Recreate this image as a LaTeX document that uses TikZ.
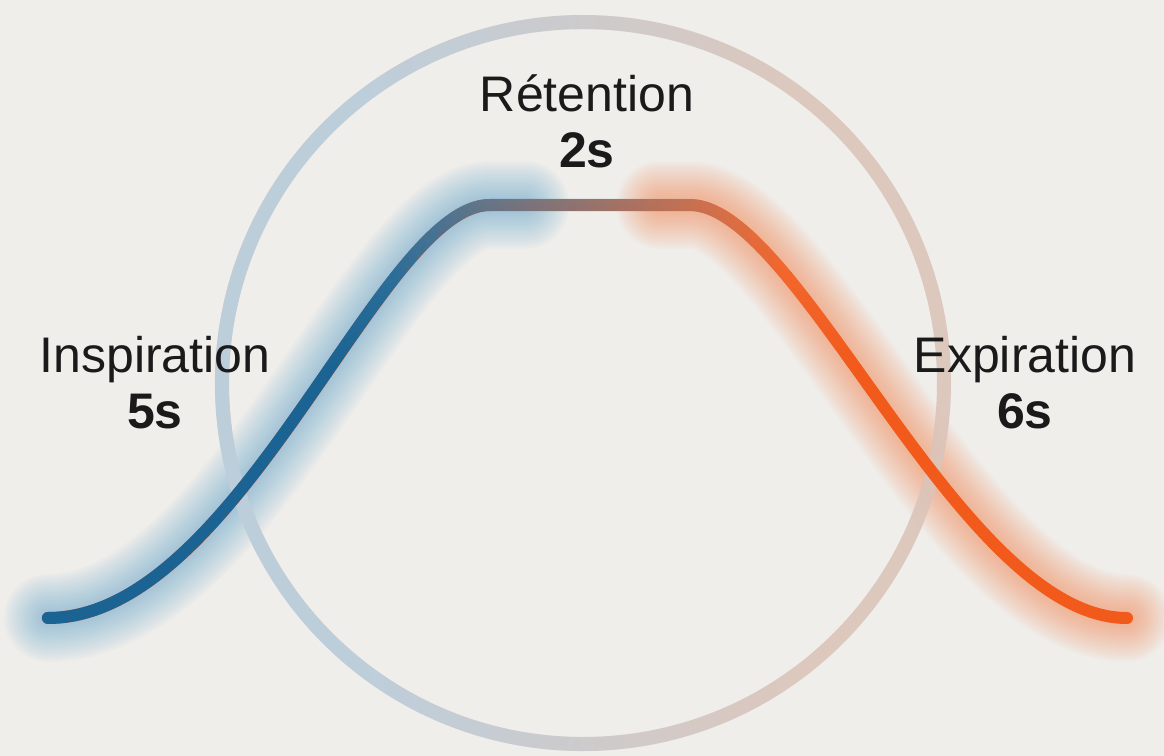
\documentclass[tikz,border=0pt]{standalone}
\usepackage{fontspec}
\setmainfont{Liberation Sans}
\usetikzlibrary{positioning,calc,fadings}

\definecolor{bgcol}{HTML}{EFEEEA}
\definecolor{inblue}{HTML}{1B6392}
\definecolor{exorange}{HTML}{F25A1C}
\definecolor{glowblue}{HTML}{5FA6D8}
\definecolor{gloworange}{HTML}{FF8248}
\definecolor{ringblue}{HTML}{BACFDF}
\definecolor{ringrose}{HTML}{DCC4B9}
\definecolor{txt}{HTML}{1A1A1A}

% fading: keep the left part, drop the right part
\pgfdeclarehorizontalshading{curvekeep}{100bp}{color(0bp)=(white); color(41bp)=(white); color(59bp)=(black); color(100bp)=(black)}
\pgfdeclarefading{curvekeep}{\pgfuseshading{curvekeep}}
\pgfdeclarehorizontalshading{ringkeep}{100bp}{color(0bp)=(white); color(35bp)=(white); color(65bp)=(black); color(100bp)=(black)}
\pgfdeclarefading{ringkeep}{\pgfuseshading{ringkeep}}
% fading: keep the top, drop the bottom
\pgfdeclareverticalshading{topkeep}{100bp}{color(0bp)=(black); color(55bp)=(black); color(100bp)=(white)}
\pgfdeclarefading{topkeep}{\pgfuseshading{topkeep}}

\tikzset{
  lbl/.style={font=\fontsize{25}{30}\selectfont, text=txt, anchor=base, inner sep=0pt},
  dur/.style={font=\fontsize{25}{30}\selectfont\bfseries, text=txt, anchor=base, inner sep=0pt},
  breath/.style={insert path={(s) .. controls (c1) and (c2) .. (p1) -- (p2) .. controls (c3) and (c4) .. (e)}},
  breathin/.style={insert path={(s) .. controls (c1) and (c2) .. (p1) -- (gl)}},
  breathout/.style={insert path={(gr) -- (p2) .. controls (c3) and (c4) .. (e)}}
}

\begin{document}
\begin{tikzpicture}[x=0.5pt,y=-0.5pt,line cap=round,line join=round]
  \useasboundingbox (0,0) rectangle (1164,756);
  \fill[bgcol] (0,0) rectangle (1164,756);

  \coordinate (O) at (583,383);   % centre of the ring
  \coordinate (s) at (48,618);    % start of the breath curve
  \coordinate (c1) at (240,618);
  \coordinate (c2) at (380,205);
  \coordinate (p1) at (490,205);  % plateau
  \coordinate (gl) at (525,205);
  \coordinate (gr) at (660,205);
  \coordinate (p2) at (690,205);
  \coordinate (c3) at (800,205);
  \coordinate (c4) at (960,618);
  \coordinate (e) at (1127,618);  % end of the breath curve

  % glow
  \foreach \w in {6,8,...,44}{
    \draw[glowblue, line width=\w pt, opacity=.03, breathin];
    \draw[gloworange, line width=\w pt, opacity=.03, breathout];
  }

  % ring
  \draw[ringrose, line width=7pt, opacity=.9] (O) circle[radius=361];
  \draw[ringblue, line width=7pt, opacity=.9, path fading=ringkeep] (O) circle[radius=361];

  % breath curve
  \draw[exorange, line width=6pt, breath];
  \draw[inblue, line width=6pt, path fading=curvekeep, breath];
  \draw[white, line width=6pt, opacity=.3, path fading=topkeep, breath];

  % labels
  \node[lbl] (inspi) at (155,372) {Inspiration};
  \node[dur] (inspiT) at (155,428) {5s};
  \node[lbl] (reten) at (587,111) {Rétention};
  \node[dur] (retenT) at (587,167) {2s};
  \node[lbl] (expi) at (1025,372) {Expiration};
  \node[dur] (expiT) at (1025,428) {6s};
\end{tikzpicture}
\end{document}
